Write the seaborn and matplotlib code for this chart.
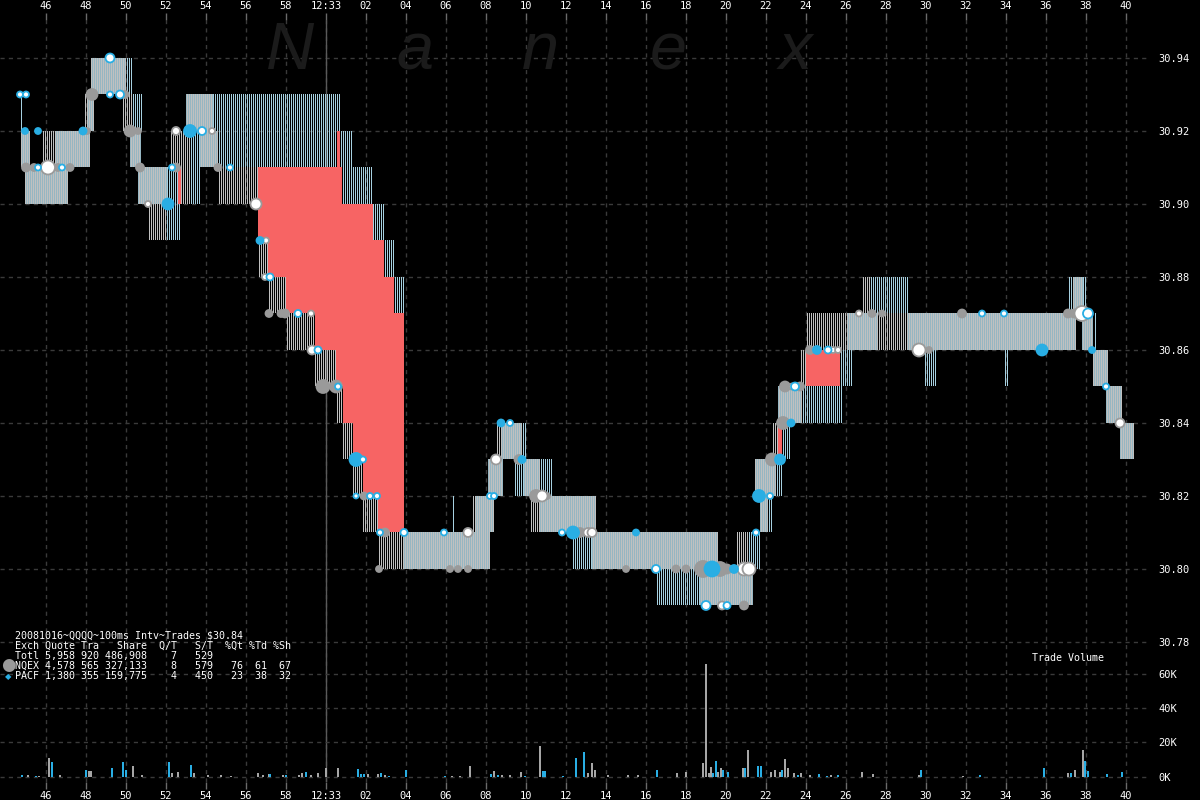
import numpy as np
import pandas as pd
import seaborn as sns
import matplotlib.pyplot as plt
from matplotlib.colors import to_rgba

# time axis: seconds after 12:32:00  (60 = 12:33:00)
# quote bands (start, end, low, high)
# both exchanges quoting the range -> dense stripes
dense_bands = [
    (44.75, 45.2, 30.91, 30.92), (44.95, 47.1, 30.90, 30.91), (46.5, 48.2, 30.91, 30.92),
    (48.1, 48.4, 30.92, 30.93), (48.25, 50.0, 30.93, 30.94), (50.2, 50.75, 30.91, 30.92),
    (50.6, 52.05, 30.90, 30.91), (53.0, 54.35, 30.92, 30.93), (53.7, 54.6, 30.91, 30.92),
    (63.9, 68.2, 30.80, 30.81), (67.5, 68.4, 30.81, 30.82), (68.1, 68.85, 30.82, 30.83),
    (68.8, 69.8, 30.83, 30.84), (69.9, 70.7, 30.82, 30.83), (70.7, 73.5, 30.81, 30.82),
    (73.3, 79.6, 30.80, 30.81), (78.7, 81.35, 30.79, 30.80), (81.45, 82.5, 30.82, 30.83),
    (81.7, 82.1, 30.81, 30.82), (82.6, 83.8, 30.84, 30.85), (86.1, 87.6, 30.86, 30.87),
    (89.05, 97.5, 30.86, 30.87), (97.35, 97.85, 30.87, 30.88), (97.8, 98.35, 30.86, 30.87),
    (98.35, 99.1, 30.85, 30.86), (99.0, 99.8, 30.84, 30.85), (99.7, 100.4, 30.83, 30.84),
]
# NQEX only -> gray stripes
nqex_bands = [
    (45.85, 46.5, 30.91, 30.92), (47.9, 48.1, 30.92, 30.93), (49.8, 50.3, 30.92, 30.93),
    (51.1, 52.05, 30.89, 30.90), (52.2, 53.2, 30.90, 30.92), (54.6, 56.6, 30.90, 30.91),
    (56.6, 57.1, 30.88, 30.89), (57.1, 58.0, 30.87, 30.88), (58.0, 59.45, 30.86, 30.87),
    (59.45, 60.5, 30.85, 30.86), (60.5, 60.85, 30.84, 30.85), (60.85, 61.35, 30.83, 30.84),
    (61.35, 61.85, 30.82, 30.83), (61.85, 62.6, 30.81, 30.82), (62.6, 63.9, 30.80, 30.81),
    (67.3, 67.5, 30.81, 30.82), (68.5, 68.8, 30.83, 30.84), (70.2, 70.7, 30.81, 30.82),
    (80.5, 81.35, 30.80, 30.81), (82.3, 82.6, 30.83, 30.84), (83.0, 83.05, 30.85, 30.86),
    (83.7, 84.0, 30.85, 30.86), (84.0, 86.1, 30.86, 30.87), (86.8, 87.2, 30.87, 30.88),
    (87.6, 89.05, 30.86, 30.87), (89.5, 89.55, 30.85, 30.86),
]
# PACF only -> blue stripes
pacf_bands = [
    (44.75, 44.85, 30.91, 30.93), (50.0, 50.3, 30.93, 30.94), (50.3, 50.85, 30.92, 30.93),
    (52.05, 52.7, 30.89, 30.91), (53.2, 53.7, 30.90, 30.92), (54.35, 60.7, 30.91, 30.93),
    (60.6, 61.3, 30.90, 30.92), (60.8, 62.35, 30.90, 30.91), (62.35, 62.9, 30.89, 30.90),
    (62.9, 63.4, 30.88, 30.89), (63.4, 63.9, 30.87, 30.88), (66.35, 66.4, 30.81, 30.82),
    (69.45, 71.3, 30.82, 30.83), (69.8, 70.05, 30.83, 30.84), (72.35, 73.3, 30.80, 30.81),
    (76.55, 78.7, 30.79, 30.80), (81.1, 81.7, 30.80, 30.81), (82.1, 82.3, 30.81, 30.82),
    (82.5, 82.8, 30.82, 30.83), (82.8, 83.2, 30.83, 30.84), (83.8, 85.8, 30.84, 30.85),
    (85.7, 86.3, 30.85, 30.86), (87.2, 89.1, 30.87, 30.88), (89.95, 90.5, 30.85, 30.86),
    (93.95, 94.1, 30.85, 30.86), (97.15, 97.35, 30.87, 30.88), (97.85, 98.0, 30.87, 30.88),
    (98.45, 98.5, 30.86, 30.87), (99.9, 99.95, 30.84, 30.85),
]
# crossed market (bid > ask) -> red
crossed = [
    (56.6, 57.1, 30.89, 30.91), (57.1, 58.0, 30.88, 30.91), (58.0, 59.45, 30.87, 30.91),
    (59.45, 60.5, 30.86, 30.91), (60.5, 60.8, 30.85, 30.91), (60.8, 60.85, 30.85, 30.90),
    (60.85, 61.35, 30.84, 30.90), (61.35, 61.85, 30.83, 30.90), (61.85, 62.35, 30.82, 30.90),
    (62.35, 62.6, 30.82, 30.89), (62.6, 62.9, 30.81, 30.89), (62.9, 63.4, 30.81, 30.88),
    (63.4, 63.9, 30.81, 30.87), (52.6, 52.75, 30.90, 30.91), (60.55, 60.7, 30.91, 30.92),
    (82.6, 82.8, 30.83, 30.84), (84.0, 85.7, 30.85, 30.86),
]

# trades: time, price, kind (N = NQEX, P = PACF, Pw = PACF ring, W = white), dot size px
trade_t = [44.7, 45.0, 44.95, 45.6, 45.0, 45.4, 45.6, 46.1, 46.6, 46.8, 47.2, 47.85, 48.05,
           48.3, 49.2, 49.7, 49.95, 49.2, 50.2, 50.6, 50.7, 51.1, 52.1, 52.5, 53.2, 53.8, 54.3,
           52.3, 52.5, 54.6, 55.2, 56.5, 56.7, 57.0, 56.95, 57.2, 57.15, 57.75, 57.95, 58.6,
           59.25, 59.3, 59.6, 59.85, 60.5, 60.6, 61.5, 61.85, 61.5, 61.9, 62.2, 62.55, 62.7,
           62.95, 63.9, 62.65, 65.9, 67.1, 66.2, 66.6, 67.1, 68.2, 68.4, 68.5, 68.75, 69.2,
           69.65, 69.8, 70.5, 70.8, 71.05, 71.8, 72.35, 72.7, 73.1, 73.3, 75.5, 75.0, 76.5,
           77.5, 78.0, 78.85, 79.3, 79.7, 80.05, 80.4, 80.9, 81.15, 79.0, 79.8, 80.05, 80.9,
           81.5, 81.65, 82.2, 82.3, 82.7, 82.85, 83.25, 82.95, 83.3, 83.45, 83.7, 84.2, 84.55,
           85.1, 85.35, 85.6, 86.65, 87.3, 87.8, 89.65, 90.15, 91.8, 92.8, 93.9, 95.8, 97.1,
           97.4, 97.8, 98.1, 98.3, 99.0, 99.7]
trade_px = [30.93, 30.93, 30.92, 30.92, 30.91, 30.91, 30.91, 30.91, 30.91, 30.91, 30.91, 30.92, 30.92,
            30.93, 30.93, 30.93, 30.93, 30.94, 30.92, 30.92, 30.91, 30.90, 30.90, 30.92, 30.92, 30.92, 30.92,
            30.91, 30.91, 30.91, 30.91, 30.90, 30.89, 30.89, 30.88, 30.88, 30.87, 30.87, 30.87, 30.87,
            30.87, 30.86, 30.86, 30.85, 30.85, 30.85, 30.83, 30.83, 30.82, 30.82, 30.82, 30.82, 30.81,
            30.81, 30.81, 30.80, 30.81, 30.81, 30.80, 30.80, 30.80, 30.82, 30.82, 30.83, 30.84, 30.84,
            30.83, 30.83, 30.82, 30.82, 30.82, 30.81, 30.81, 30.81, 30.81, 30.81, 30.81, 30.80, 30.80,
            30.80, 30.80, 30.80, 30.80, 30.80, 30.80, 30.80, 30.80, 30.80, 30.79, 30.79, 30.79, 30.79,
            30.81, 30.82, 30.82, 30.83, 30.83, 30.84, 30.84, 30.85, 30.85, 30.85, 30.85, 30.86, 30.86,
            30.86, 30.86, 30.86, 30.87, 30.87, 30.87, 30.86, 30.86, 30.87, 30.87, 30.87, 30.86, 30.87,
            30.87, 30.87, 30.87, 30.86, 30.85, 30.84]
trade_kind = ['Pw', 'Pw', 'P', 'P', 'N', 'N', 'Pw', 'W', 'N', 'Pw', 'N', 'P', 'N',
              'N', 'Pw', 'Pw', 'N', 'Pw', 'N', 'N', 'N', 'W', 'P', 'W', 'P', 'Pw', 'W',
              'Pw', 'N', 'N', 'Pw', 'W', 'P', 'W', 'W', 'Pw', 'N', 'N', 'N', 'Pw',
              'W', 'W', 'Pw', 'N', 'N', 'Pw', 'P', 'Pw', 'Pw', 'N', 'Pw', 'Pw', 'Pw',
              'N', 'Pw', 'N', 'Pw', 'W', 'N', 'N', 'N', 'Pw', 'Pw', 'W', 'P', 'Pw',
              'N', 'P', 'N', 'W', 'N', 'Pw', 'P', 'N', 'W', 'W', 'P', 'N', 'Pw',
              'N', 'N', 'N', 'P', 'N', 'N', 'P', 'W', 'W', 'Pw', 'W', 'Pw', 'N',
              'Pw', 'P', 'Pw', 'N', 'P', 'N', 'P', 'N', 'W', 'Pw', 'N', 'N', 'P',
              'Pw', 'W', 'W', 'W', 'N', 'N', 'W', 'N', 'N', 'Pw', 'Pw', 'P', 'N',
              'N', 'W', 'Pw', 'P', 'Pw', 'W']
trade_size = [6, 6, 6, 6, 8, 7, 6, 14, 7, 6, 7, 7, 6,
              11, 6, 8, 7, 9, 11, 6, 8, 6, 11, 8, 12, 8, 6,
              6, 8, 7, 6, 11, 7, 6, 6, 7, 7, 7, 8, 7,
              6, 9, 7, 13, 12, 6, 13, 6, 5, 7, 6, 6, 6,
              8, 7, 6, 6, 9, 6, 6, 6, 6, 6, 10, 7, 6,
              9, 7, 12, 11, 6, 6, 12, 9, 9, 9, 6, 6, 8,
              7, 7, 16, 15, 14, 9, 8, 13, 13, 9, 8, 7, 8,
              6, 12, 6, 12, 10, 12, 7, 10, 6, 8, 8, 8, 8,
              7, 6, 6, 6, 7, 6, 13, 6, 8, 6, 6, 11, 8,
              8, 15, 10, 6, 6, 9]

# trade volume per 100ms interval (K shares)
vol_t = [44.75, 45.05, 45.45, 45.6, 46.1, 46.25, 46.65, 47.95, 48.1, 48.2, 49.25, 49.8, 49.95,
         50.3, 50.75, 52.1, 52.25, 52.55, 53.2, 53.35, 54.05, 54.7, 55.2, 56.55, 56.8, 57.1,
         57.15, 57.8, 57.95, 58.6, 58.75, 58.95, 59.2, 59.55, 59.95, 60.55, 61.55, 61.7, 61.85,
         62.05, 62.55, 62.7, 62.9, 63.1, 63.95, 65.9, 66.25, 66.65, 67.15, 68.2, 68.35, 68.55,
         68.75, 69.15, 69.7, 69.9, 70.65, 70.8, 70.9, 71.8, 72.45, 72.85, 73.05, 73.25, 73.4,
         74.05, 75.05, 75.55, 76.5, 77.5, 77.95, 78.8, 78.95, 79.1, 79.2, 79.3, 79.45, 79.55,
         79.7, 79.8, 80.05, 80.8, 80.9, 81.05, 81.55, 81.7, 82.2, 82.4, 82.65, 82.75, 82.9,
         83.05, 83.35, 83.55, 83.7, 84.15, 84.6, 85.0, 85.2, 85.55, 86.75, 87.3, 89.6, 89.7,
         91.8, 92.65, 95.85, 97.05, 97.2, 97.4, 97.8, 97.9, 98.05, 99.0, 99.75]
vol_k = [1.0, 1.0, 0.5, 0.5, 10.5, 8.7, 0.6, 4.0, 3.0, 3.0, 5.2, 8.2, 3.7,
         6.0, 1.0, 8.7, 2.0, 2.5, 6.6, 2.0, 1.0, 1.0, 0.5, 2.0, 1.0, 1.3,
         1.5, 1.0, 1.0, 1.0, 2.2, 2.7, 1.0, 2.3, 4.9, 4.9, 4.5, 1.2, 1.5,
         1.4, 1.2, 1.8, 1.0, 0.5, 4.0, 0.5, 0.5, 0.5, 6.4, 1.2, 3.3, 1.0,
         0.6, 0.6, 2.9, 0.5, 17.7, 3.3, 3.1, 0.5, 11.0, 14.0, 2.0, 7.6, 4.0,
         0.6, 0.6, 0.6, 3.5, 2.0, 2.5, 7.6, 65.4, 1.8, 5.4, 1.8, 9.3, 2.5,
         5.2, 3.5, 2.7, 5.2, 4.7, 15.7, 6.4, 6.4, 2.5, 4.0, 2.5, 3.5, 10.0,
         4.9, 2.0, 1.0, 1.8, 0.6, 1.2, 0.3, 0.6, 0.6, 2.9, 1.2, 1.0, 3.5,
         0.4, 0.6, 4.7, 2.3, 1.9, 3.5, 15.5, 9.3, 3.3, 1.7, 2.9]
vol_ex = ['P', 'N', 'P', 'N', 'N', 'P', 'N', 'P', 'N', 'N', 'P', 'P', 'P',
          'N', 'N', 'P', 'N', 'N', 'P', 'N', 'N', 'N', 'N', 'N', 'N', 'N',
          'P', 'N', 'P', 'N', 'N', 'P', 'N', 'N', 'N', 'N', 'P', 'P', 'P',
          'N', 'N', 'P', 'N', 'P', 'P', 'P', 'N', 'N', 'N', 'P', 'N', 'P',
          'N', 'N', 'N', 'P', 'N', 'P', 'P', 'P', 'P', 'P', 'N', 'N', 'N',
          'N', 'N', 'N', 'P', 'N', 'N', 'N', 'N', 'N', 'N', 'P', 'P', 'N',
          'N', 'P', 'P', 'N', 'P', 'N', 'P', 'P', 'N', 'N', 'N', 'P', 'N',
          'N', 'N', 'P', 'N', 'N', 'P', 'P', 'N', 'P', 'N', 'N', 'N', 'P',
          'N', 'P', 'P', 'N', 'P', 'N', 'N', 'P', 'P', 'P', 'P']

price_ticks = [30.78, 30.80, 30.82, 30.84, 30.86, 30.88, 30.90, 30.92, 30.94]
vol_ticks = [0, 20, 40, 60]
sec_ticks = list(range(46, 101, 2))

table_lines = [
    "20081016~QQQQ~100ms Intv~Trades $30.84",
    "Exch Quote Tra   Share  Q/T   S/T  %Qt %Td %Sh",
    "Totl 5,958 920 486,908    7   529",
    "NQEX 4,578 565 327,133    8   579   76  61  67",
    "PACF 1,380 355 159,775    4   450   23  38  32",
]

CYAN = '#96b6c2'        # blue column inside a two-sided band
CYAN_LINE = '#a6d0e0'   # lone PACF quote line
LGRAY = '#c0c0c0'
DOT_GRAY = '#9a9a9a'
DOT_BLUE = '#29aee4'
RED = '#f76464'
GRID = '#3a3a3a'

sns.set_theme(style='dark', rc={'axes.facecolor': 'black', 'figure.facecolor': 'black',
                                'savefig.facecolor': 'black', 'text.color': 'white'})
plt.rcParams['font.family'] = ['DejaVu Sans Mono', 'DejaVu Sans']

fig = plt.figure(figsize=(12, 8), dpi=100)
rect = [0, 18 / 800, 1150 / 1200, 762 / 800]
ax = fig.add_axes(rect)
axv = fig.add_axes(rect, sharex=ax)
axv.patch.set_visible(False)

XMIN, XMAX = 43.7, 101.2
YMIN, YMAX = 30.74164, 30.95041
axv.set_ylim(-3.2, 440.7)

# quote layer rendered as a raster: one column per 50ms, stripes alternate per column
ncol, nrow = 1150, 762
col_t = XMIN + (np.arange(ncol) + 0.5) * (XMAX - XMIN) / ncol
row_p = YMAX - (np.arange(nrow) + 0.5) * (YMAX - YMIN) / nrow
even = (np.arange(ncol) % 2 == 0)
img = np.zeros((nrow, ncol, 4))


def paint(bands, color, colmask=None):
    rgba = np.array(to_rgba(color))
    for t0, t1, lo, hi in bands:
        cm = (col_t >= t0) & (col_t < t1)
        if colmask is not None:
            cm &= colmask
        rm = (row_p >= lo - 1e-6) & (row_p < hi - 1e-6)
        img[np.ix_(rm, cm)] = rgba


paint(nqex_bands, LGRAY, ~even)
paint(pacf_bands, CYAN_LINE, ~even)
paint(dense_bands, CYAN, even)
paint(dense_bands, LGRAY, ~even)
paint(crossed, RED)

ax.imshow(img, extent=(XMIN, XMAX, YMIN, YMAX), aspect='auto', interpolation='nearest',
          origin='upper', zorder=2)
ax.set_xlim(XMIN, XMAX)
ax.set_ylim(YMIN, YMAX)

# trades
trades = pd.DataFrame({'t': trade_t, 'price': trade_px, 'kind': trade_kind,
                       'size': trade_size})
styles = {'N': (DOT_GRAY, DOT_GRAY), 'P': (DOT_BLUE, DOT_BLUE),
          'Pw': ('white', DOT_BLUE), 'W': ('white', DOT_GRAY)}
for kind in ['N', 'W', 'P', 'Pw']:
    d = trades[trades['kind'] == kind]
    face, edge = styles[kind]
    sns.scatterplot(data=d, x='t', y='price', ax=ax, color=face, edgecolor=edge,
                    s=(d['size'] * 0.72) ** 2, linewidth=1.3, legend=False, zorder=5)

# volume
vol = pd.DataFrame({'t': vol_t, 'k': vol_k, 'ex': vol_ex})
for ex, col in [('N', '#a6a6a6'), ('P', DOT_BLUE)]:
    d = vol[vol['ex'] == ex]
    axv.bar(d['t'], d['k'], width=0.1, align='edge', color=col, linewidth=0,
            antialiased=False, zorder=3)

# 12:33 marker
ax.axvline(60, color='#5a5a5a', linewidth=1, zorder=1)

# grids / ticks
ax.set_xticks(sec_ticks)
ax.set_xticklabels(['12:33' if s == 60 else f'{s % 60:02d}' for s in sec_ticks])
for lab in ax.get_xticklabels():
    if lab.get_text() == '12:33':
        lab.set_fontsize(10)
ax.set_yticks(price_ticks)
ax.set_yticklabels([f'{p:.2f}' for p in price_ticks])
ax.yaxis.tick_right()
ax.tick_params(axis='x', top=True, bottom=True, labeltop=True, labelbottom=True,
               direction='out', length=5, width=1, color='#6a6a6a', labelcolor='white',
               labelsize=7.5, pad=1.5)
ax.tick_params(axis='y', length=0, pad=6, labelcolor='white', labelsize=7.5)
ax.grid(True, color=GRID, linestyle=(0, (3, 3)), linewidth=1)
ax.set_axisbelow(True)

axv.set_yticks(vol_ticks)
axv.set_yticklabels([f'{v}K' for v in vol_ticks])
axv.yaxis.tick_right()
axv.tick_params(axis='y', length=0, pad=6, labelcolor='white', labelsize=7.5)
axv.tick_params(axis='x', bottom=False, top=False, labelbottom=False, labeltop=False)
axv.grid(True, axis='y', color=GRID, linestyle=(0, (3, 3)), linewidth=1)
axv.grid(False, axis='x')

for a in (ax, axv):
    for s in a.spines.values():
        s.set_visible(False)
    a.set_xlabel('')
    a.set_ylabel('')

# watermark
for letter, xp in zip('Nanex', [290, 415, 540, 668, 795]):
    fig.text(xp / 1200, 1 - 52 / 800, letter, family='Liberation Sans', style='italic',
             fontsize=48, color='#1b1b1b', ha='center', va='center', zorder=0)

# info table
for i, line in enumerate(table_lines):
    fig.text(15 / 1200, 1 - (636 + i * 10) / 800, line, fontsize=7.2, color='white',
             va='center', ha='left')
fig.text(8 / 1200, 1 - 665 / 800, '\u25cf', fontsize=12, color=DOT_GRAY, ha='center',
         va='center', family='DejaVu Sans')
fig.text(8 / 1200, 1 - 677 / 800, '\u25c6', fontsize=6, color=DOT_BLUE, ha='center',
         va='center', family='DejaVu Sans')
fig.text(1032 / 1200, 1 - 658 / 800, 'Trade Volume', fontsize=7.2, color='white',
         va='center', ha='left')

fig.savefig('out.png', dpi=100, facecolor='black')
